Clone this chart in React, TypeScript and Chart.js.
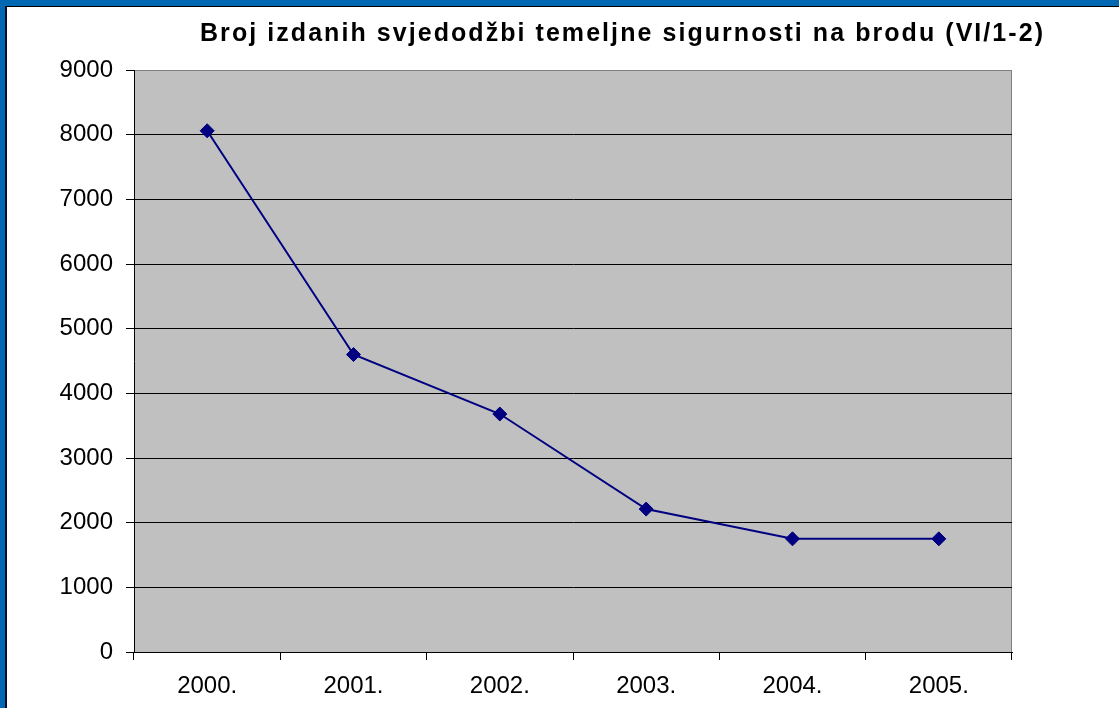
import React, { useEffect, useRef } from "react";
import { Chart, registerables } from "chart.js";

Chart.register(...registerables);

const TITLE = "Broj izdanih svjedodžbi temeljne sigurnosti na brodu (VI/1-2)";
const YEARS = ["2000.", "2001.", "2002.", "2003.", "2004.", "2005."];
const CERTIFICATES = [8060, 4600, 3680, 2210, 1750, 1750];
const Y_MIN = 0;
const Y_MAX = 9000;
const Y_STEP = 1000;

const FONT = '"Liberation Sans", Arial, sans-serif';

const plotBackground = {
  id: "plotBackground",
  beforeDraw(chart: any) {
    const { ctx, chartArea } = chart;
    const { left, top, right, bottom } = chartArea;
    ctx.save();
    ctx.fillStyle = "#C0C0C0";
    ctx.fillRect(left, top, right - left, bottom - top);
    ctx.strokeStyle = "#808080";
    ctx.lineWidth = 1;
    ctx.beginPath();
    ctx.moveTo(left, top + 0.5);
    ctx.lineTo(right - 0.5, top + 0.5);
    ctx.lineTo(right - 0.5, bottom);
    ctx.stroke();
    ctx.restore();
  },
};

const spacedTitle = {
  id: "spacedTitle",
  afterDraw(chart: any) {
    const ctx = chart.ctx;
    const leftX = 193;
    const rightX = 1036;
    const baseY = 34;
    ctx.save();
    ctx.font = `bold 25px ${FONT}`;
    ctx.fillStyle = "#000";
    ctx.textBaseline = "alphabetic";
    ctx.textAlign = "left";
    const w = ctx.measureText(TITLE).width;
    const n = Array.from(TITLE).length;
    const spacing = Math.max(0, (rightX - leftX - w) / (n - 1));
    if ("letterSpacing" in ctx) {
      (ctx as any).letterSpacing = `${spacing}px`;
      ctx.fillText(TITLE, leftX, baseY);
    } else {
      let x = leftX;
      for (const ch of Array.from(TITLE)) {
        ctx.fillText(ch, x, baseY);
        x += ctx.measureText(ch).width + spacing;
      }
    }
    ctx.restore();
  },
};

export default function App() {
  const canvasRef = useRef<HTMLCanvasElement | null>(null);

  useEffect(() => {
    if (!canvasRef.current) return;
    const chart = new Chart(canvasRef.current, {
      type: "line",
      data: {
        labels: YEARS,
        datasets: [
          {
            label: "Svjedodžbe",
            data: CERTIFICATES,
            borderColor: "#000080",
            backgroundColor: "#000080",
            borderWidth: 2,
            pointStyle: "rectRot",
            pointRadius: 7,
            pointBorderWidth: 1,
            pointBorderColor: "#000080",
            pointBackgroundColor: "#000080",
            tension: 0,
          },
        ],
      },
      options: {
        responsive: false,
        animation: false,
        layout: { padding: { left: 0, top: 63, right: 107, bottom: 0 } },
        plugins: {
          legend: { display: false },
          title: { display: false },
          tooltip: { enabled: false },
        },
        scales: {
          x: {
            offset: true,
            grid: {
              offset: true,
              drawOnChartArea: false,
              drawTicks: true,
              tickLength: 8,
              tickColor: "#000",
              color: "#000",
            },
            border: { color: "#000", width: 1 },
            ticks: {
              color: "#000",
              font: { family: FONT, size: 24 },
              padding: 12,
              maxRotation: 0,
            },
            afterFit(scale: any) {
              scale.height = 56;
            },
          },
          y: {
            min: Y_MIN,
            max: Y_MAX,
            grid: {
              color: (ctx: any) => (ctx.tick && ctx.tick.value === Y_MAX ? "#808080" : "#000"),
              tickColor: "#000",
              tickLength: 8,
              lineWidth: 1,
            },
            border: { color: "#000", width: 1 },
            ticks: {
              stepSize: Y_STEP,
              color: "#000",
              font: { family: FONT, size: 24 },
              padding: 13,
              callback: (value: any) => String(value),
            },
            afterFit(scale: any) {
              scale.width = 127;
            },
          },
        },
      },
      plugins: [plotBackground, spacedTitle],
    });
    return () => chart.destroy();
  }, []);

  return (
    <div
      style={{
        position: "fixed",
        left: 0,
        top: 0,
        width: 1119,
        height: 708,
        background: "#0067B2",
        overflow: "hidden",
      }}
    >
      <div
        style={{
          position: "absolute",
          left: 5,
          top: 6,
          right: 0,
          bottom: 0,
          background: "#fff",
          borderLeft: "2px solid #0a0a28",
          borderTop: "1px solid #000",
        }}
      >
        <canvas
          ref={canvasRef}
          width={1112}
          height={701}
          style={{ display: "block", width: 1112, height: 701 }}
        />
      </div>
    </div>
  );
}
